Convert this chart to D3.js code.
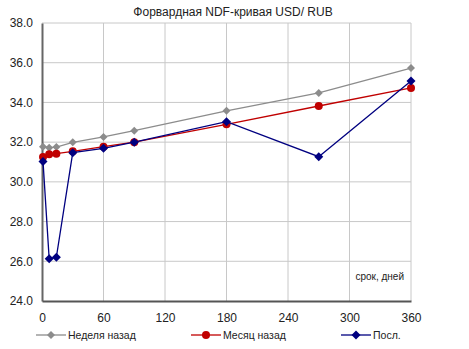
<!DOCTYPE html>
<html>
<head>
<meta charset="utf-8">
<script src="https://cdn.jsdelivr.net/npm/d3@7/dist/d3.min.js"></script>
<style>
  html, body { margin: 0; padding: 0; background: #fff; }
  svg { display: block; font-family: "Liberation Sans", Arial, sans-serif; }
</style>
</head>
<body>
<svg id="chart" width="469" height="349"></svg>
<script>
// Forward NDF curve USD/RUB: tenor in days vs. rate
const tenors = [1, 7, 14, 30, 60, 90, 180, 270, 360];
const weekAgo = [31.77, 31.72, 31.75, 31.99, 32.26, 32.58, 33.58, 34.48, 35.73];
const monthAgo = [31.25, 31.39, 31.42, 31.54, 31.77, 32.00, 32.90, 33.82, 34.73];
const latest = [31.02, 26.13, 26.20, 31.47, 31.69, 32.00, 33.03, 31.27, 35.08];
const seriesNames = ["Неделя назад", "Месяц назад", "Посл."];
const xTicks = [0, 60, 120, 180, 240, 300, 360];
const yTicks = [24, 26, 28, 30, 32, 34, 36, 38];

const svg = d3.select("#chart");
const plotLeft = 42, plotRight = 411, plotTop = 23, plotBottom = 301;

const x = d3.scaleLinear().domain([0, 360]).range([plotLeft, plotRight]);
const y = d3.scaleLinear().domain([24, 38]).range([plotBottom, plotTop]);

// Grid
const grid = svg.append("g");
grid.selectAll("line.h").data(yTicks.slice(1)).join("line")
  .attr("x1", plotLeft).attr("x2", plotRight)
  .attr("y1", d => y(d)).attr("y2", d => y(d))
  .attr("stroke", "#c8c8c8").attr("stroke-width", 1);
grid.selectAll("line.v").data(xTicks.slice(1)).join("line")
  .attr("x1", d => x(d)).attr("x2", d => x(d))
  .attr("y1", plotTop).attr("y2", plotBottom)
  .attr("stroke", "#c8c8c8").attr("stroke-width", 1);

// Axes
const yAxis = d3.axisLeft(y).tickValues(yTicks).tickSize(0).tickPadding(9)
  .tickFormat(d3.format(".1f"));
svg.append("g").attr("transform", `translate(${plotLeft},0)`).call(yAxis)
  .call(g => g.select(".domain").attr("stroke", "#666").attr("stroke-width", 2))
  .call(g => g.selectAll("text").attr("font-size", 12).attr("fill", "#222")
    .attr("font-family", "Liberation Sans, Arial, sans-serif"));

const xAxis = d3.axisBottom(x).tickValues(xTicks).tickSize(0).tickPadding(12);
svg.append("g").attr("transform", `translate(0,${plotBottom})`).call(xAxis)
  .call(g => g.select(".domain").attr("stroke", "#555").attr("stroke-width", 2))
  .call(g => g.selectAll("text").attr("font-size", 12).attr("fill", "#222")
    .attr("font-family", "Liberation Sans, Arial, sans-serif"));

// Title and axis note
svg.append("text").attr("x", 233).attr("y", 16).attr("text-anchor", "middle")
  .attr("font-size", 12).attr("fill", "#222").text("Форвардная NDF-кривая USD/ RUB");
svg.append("text").attr("x", 404).attr("y", 280).attr("text-anchor", "end")
  .attr("font-size", 10).attr("fill", "#222").text("срок, дней");

const series = [
  { name: seriesNames[0], values: weekAgo, color: "#8c8c8c", marker: "diamond", size: 4 },
  { name: seriesNames[1], values: monthAgo, color: "#c00000", marker: "circle", size: 4 },
  { name: seriesNames[2], values: latest, color: "#000080", marker: "diamond", size: 4.5 }
];

function drawMarker(g, type, cx, cy, s, color) {
  if (type === "circle") {
    g.append("circle").attr("cx", cx).attr("cy", cy).attr("r", s).attr("fill", color);
  } else {
    g.append("path")
      .attr("d", `M${cx},${cy - s}L${cx + s},${cy}L${cx},${cy + s}L${cx - s},${cy}Z`)
      .attr("fill", color);
  }
}

const line = d3.line().x(d => x(d[0])).y(d => y(d[1]));
series.forEach(s => {
  const pts = tenors.map((t, i) => [t, s.values[i]]);
  const g = svg.append("g");
  g.append("path").datum(pts).attr("d", line)
    .attr("fill", "none").attr("stroke", s.color).attr("stroke-width", 1.3);
  pts.forEach(p => drawMarker(g, s.marker, x(p[0]), y(p[1]), s.size, s.color));
});

// Legend
const legendX = [36, 191, 341];
series.forEach((s, i) => {
  const g = svg.append("g").attr("transform", `translate(${legendX[i]},335)`);
  g.append("line").attr("x1", 0).attr("x2", 30).attr("y1", 0).attr("y2", 0)
    .attr("stroke", s.color).attr("stroke-width", 1.3);
  drawMarker(g, s.marker, 15, 0, s.size, s.color);
  g.append("text").attr("x", 32).attr("y", 4).attr("font-size", 10.5).attr("fill", "#222")
    .text(s.name);
});
</script>
</body>
</html>
